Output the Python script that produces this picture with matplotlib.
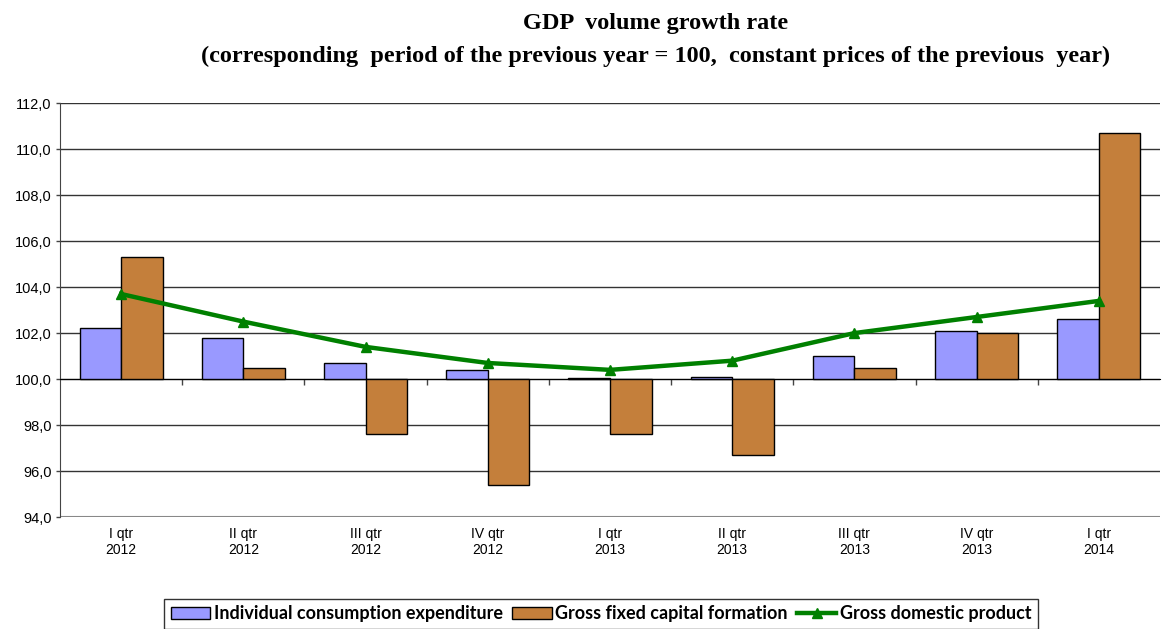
import matplotlib
matplotlib.use("Agg")
import matplotlib.pyplot as plt
import matplotlib.transforms as mtransforms
import numpy as np

categories = ["I qtr\n2012", "II qtr\n2012", "III qtr\n2012", "IV qtr\n2012",
              "I qtr\n2013", "II qtr\n2013", "III qtr\n2013", "IV qtr\n2013", "I qtr\n2014"]
consumption = [102.2, 101.8, 100.7, 100.4, 100.05, 100.1, 101.0, 102.1, 102.6]
capital = [105.3, 100.5, 97.6, 95.4, 97.6, 96.7, 100.5, 102.0, 110.7]
gdp = [103.7, 102.5, 101.4, 100.7, 100.4, 100.8, 102.0, 102.7, 103.4]
yticks = [94, 96, 98, 100, 102, 104, 106, 108, 110, 112]
ytick_labels = ["94,0", "96,0", "98,0", "100,0", "102,0", "104,0", "106,0", "108,0", "110,0", "112,0"]

baseline = 100
fig = plt.figure(figsize=(11.65, 6.29), dpi=100)
ax = fig.add_axes([0.0515, 0.178, 0.9442, 0.658])

x = np.arange(len(categories))
w = 0.34
ice = np.array(consumption) - baseline
gfc = np.array(capital) - baseline
b1 = ax.bar(x - w / 2, ice, w, bottom=baseline, color="#9999FF", edgecolor="#000000",
            linewidth=1.0, zorder=3, label="Individual consumption expenditure")
b2 = ax.bar(x + w / 2, gfc, w, bottom=baseline, color="#C47F3B", edgecolor="#000000",
            linewidth=1.0, zorder=3, label="Gross fixed capital formation")
l1, = ax.plot(x, gdp, color="#008000", linewidth=3.2, marker="^", markersize=7,
              zorder=4, label="Gross domestic product")

ax.set_xlim(-0.5, len(categories) - 0.5)
ax.set_ylim(94, 112)
ax.set_yticks(yticks)
ax.set_yticklabels(ytick_labels, fontsize=10.5, family="Liberation Sans")
ax.yaxis.grid(True, color="#333333", linewidth=1.0, zorder=0)
ax.set_axisbelow(True)
ax.tick_params(axis="y", length=3, width=1, color="#444444", pad=3)

# category axis crossing at 100
ax.spines["bottom"].set_position(("data", baseline))
ax.spines["bottom"].set_color("#000000")
ax.spines["top"].set_visible(False)
ax.spines["right"].set_visible(False)
ax.spines["left"].set_color("#444444")
ax.set_xticks(x)
ax.set_xticklabels([])
ax.tick_params(axis="x", which="major", length=0)
ax.set_xticks(np.arange(len(categories) - 1) + 0.5, minor=True)
ax.tick_params(axis="x", which="minor", length=4, width=1, color="#444444", direction="out")
ax.axhline(94, color="#888888", linewidth=1.5, zorder=1)

trans = mtransforms.blended_transform_factory(ax.transData, ax.transAxes)
for xi, lab in zip(x, categories):
    ax.text(xi, -0.025, lab, transform=trans, ha="center", va="top",
            fontsize=10, family="Liberation Sans", linespacing=1.15)

fig.text(0.563, 0.963, "GDP  volume growth rate", ha="center", va="center",
         fontsize=17.5, fontweight="bold", family="Liberation Serif")
fig.text(0.563, 0.910, "(corresponding  period of the previous year = 100,  constant prices of the previous  year)",
         ha="center", va="center", fontsize=17.5, fontweight="bold", family="Liberation Serif")

leg = fig.legend(handles=[b1, b2, l1], loc="lower center", bbox_to_anchor=(0.516, -0.014), ncol=3,
                 frameon=True, fancybox=False, edgecolor="#000000",
                 prop={"family": "Lato", "weight": "bold", "size": 13},
                 handlelength=2.2, handletextpad=0.2, columnspacing=0.5, borderpad=0.35)
leg.get_frame().set_linewidth(1.0)

fig.savefig("out.png", dpi=100)
